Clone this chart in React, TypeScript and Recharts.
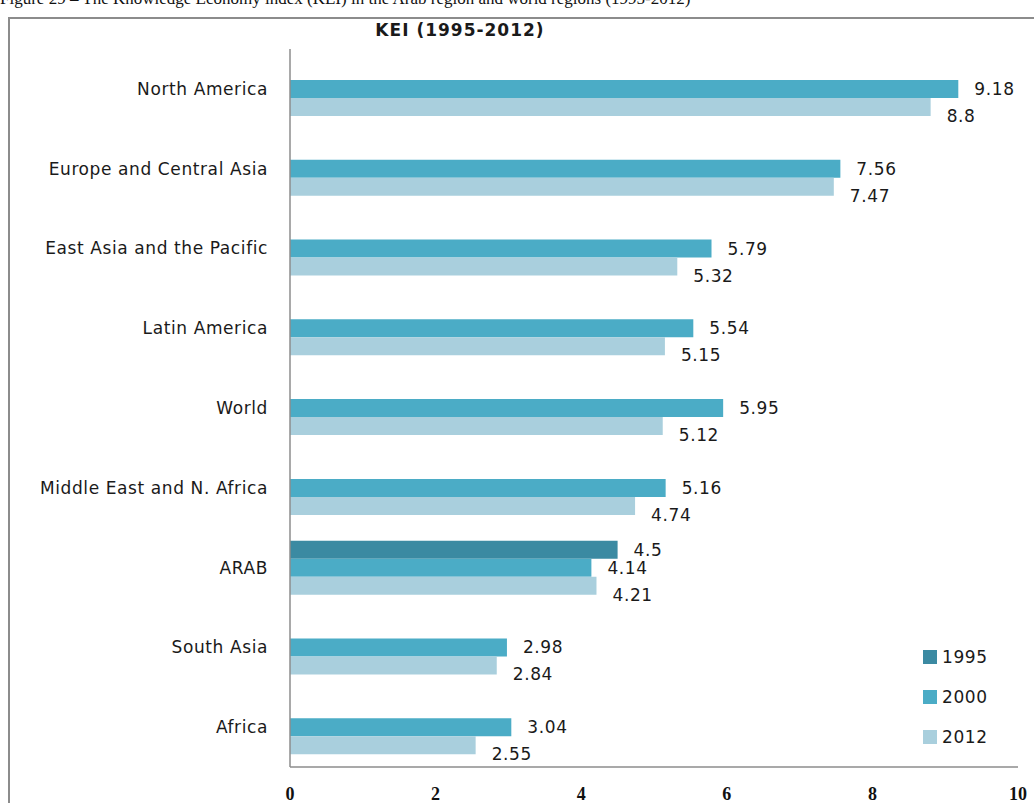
import React from "react";
import { BarChart, Bar, XAxis, YAxis, LabelList } from "recharts";

const CATEGORIES = [
  "North America",
  "Europe and Central Asia",
  "East Asia and the Pacific",
  "Latin America",
  "World",
  "Middle East and N. Africa",
  "ARAB",
  "South Asia",
  "Africa",
];
const KEI_1995 = [null, null, null, null, null, null, 4.5, null, null];
const KEI_2000 = [9.18, 7.56, 5.79, 5.54, 5.95, 5.16, 4.14, 2.98, 3.04];
const KEI_2012 = [8.8, 7.47, 5.32, 5.15, 5.12, 4.74, 4.21, 2.84, 2.55];
const X_TICKS = [0, 2, 4, 6, 8, 10];

const SERIES = [
  { key: "y1995", name: "1995", color: "#3b8aa2", labelDy: 0 },
  { key: "y2000", name: "2000", color: "#4bacc6", labelDy: 0 },
  { key: "y2012", name: "2012", color: "#a9cfdd", labelDy: 9 },
];

const data = CATEGORIES.map((name, i) => ({
  name,
  y1995: KEI_1995[i],
  y2000: KEI_2000[i],
  y2012: KEI_2012[i],
}));

const SANS = "'DejaVu Sans', sans-serif";
const AXIS = "#8c8c8c";

const CategoryTick = (props: any) => {
  const { x, y, payload } = props;
  return (
    <text
      x={x}
      y={y}
      textAnchor="end"
      dominantBaseline="central"
      fontFamily={SANS}
      fontSize={17}
      letterSpacing={0.6}
      fill="#1a1a1a"
    >
      {payload.value}
    </text>
  );
};

const ValueTick = (props: any) => {
  const { x, y, payload } = props;
  return (
    <text
      x={x}
      y={y}
      dy="0.71em"
      textAnchor="middle"
      fontFamily="'Liberation Serif', serif"
      fontWeight="bold"
      fontSize={18}
      fill="#111"
    >
      {payload.value}
    </text>
  );
};

const makeLabel = (dy: number) => (props: any) => {
  const { x, y, width, height, value } = props;
  if (value == null) return null;
  return (
    <text
      x={x + width + 16}
      y={y + height / 2 + dy}
      dominantBaseline="central"
      fontFamily={SANS}
      fontSize={17}
      letterSpacing={0.6}
      fill="#1a1a1a"
    >
      {value}
    </text>
  );
};

const LegendBox = () => (
  <div style={{ fontFamily: SANS, fontSize: 17, letterSpacing: 0.6, color: "#1a1a1a" }}>
    {SERIES.map((s) => (
      <div key={s.key} style={{ display: "flex", alignItems: "center", height: 40 }}>
        <span style={{ width: 14, height: 14, background: s.color, marginRight: 5 }} />
        <span>{s.name}</span>
      </div>
    ))}
  </div>
);

export default function App() {
  return (
    <div
      style={{
        position: "absolute",
        left: 0,
        top: 0,
        width: 1034,
        height: 803,
        overflow: "hidden",
        background: "#fff",
      }}
    >
      <div
        style={{
          position: "absolute",
          left: 0,
          top: -11,
          whiteSpace: "nowrap",
          fontFamily: "'Liberation Serif', serif",
          fontSize: 17,
          color: "#111",
        }}
      >
        Figure 29 – The Knowledge Economy index (KEI) in the Arab region and world regions (1995-2012)
      </div>
      <div
        style={{
          position: "absolute",
          left: 8,
          top: 17,
          width: 1100,
          height: 900,
          borderLeft: `2px solid ${AXIS}`,
          borderTop: `2px solid ${AXIS}`,
        }}
      />
      <div
        style={{
          position: "absolute",
          left: 360,
          top: 20,
          width: 200,
          textAlign: "center",
          fontFamily: SANS,
          fontWeight: "bold",
          fontSize: 17,
          letterSpacing: 1,
          color: "#1a1a1a",
        }}
      >
        KEI (1995-2012)
      </div>
      <div style={{ position: "absolute", left: 0, top: 0 }}>
        <BarChart
          width={1034}
          height={803}
          data={data}
          layout="vertical"
          margin={{ top: 49, right: 16, bottom: 0, left: 10 }}
          barSize={18}
          barGap={0}
        >
          <XAxis
            type="number"
            domain={[0, 10]}
            ticks={X_TICKS}
            height={36}
            axisLine={{ stroke: AXIS, strokeWidth: 1.5 }}
            tickLine={false}
            tickMargin={14}
            tick={<ValueTick />}
            interval={0}
          />
          <YAxis
            type="category"
            dataKey="name"
            width={280}
            axisLine={{ stroke: AXIS, strokeWidth: 1.5 }}
            tickLine={false}
            tickMargin={16}
            tick={<CategoryTick />}
            interval={0}
          />
          {SERIES.map((s) => (
            <Bar key={s.key} dataKey={s.key} name={s.name} fill={s.color} isAnimationActive={false}>
              <LabelList dataKey={s.key} content={makeLabel(s.labelDy)} />
            </Bar>
          ))}
        </BarChart>
      </div>
      <div style={{ position: "absolute", left: 923, top: 637 }}>
        <LegendBox />
      </div>
    </div>
  );
}
